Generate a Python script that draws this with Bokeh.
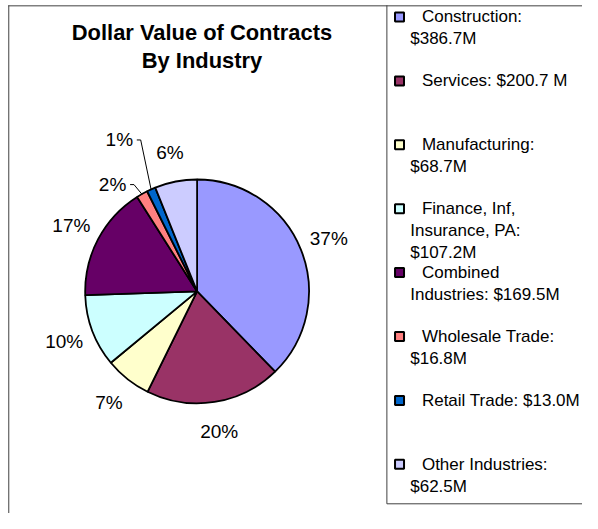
import numpy as np
from bokeh.plotting import figure
from bokeh.models import Range1d
from bokeh.core.properties import value
from bokeh.embed import file_html
from bokeh.resources import INLINE

# ---- data ----
industries = ["Construction", "Services", "Manufacturing", "Finance, Inf, Insurance, PA",
              "Combined Industries", "Wholesale Trade", "Retail Trade", "Other Industries"]
amounts = [386.7, 200.7, 68.7, 107.2, 169.5, 16.8, 13.0, 62.5]
pct_labels = ["37%", "20%", "7%", "10%", "17%", "2%", "1%", "6%"]
legend_lines = [["Construction:", "$386.7M"],
                ["Services: $200.7 M"],
                ["Manufacturing:", "$68.7M"],
                ["Finance, Inf,", "Insurance, PA:", "$107.2M"],
                ["Combined", "Industries: $169.5M"],
                ["Wholesale Trade:", "$16.8M"],
                ["Retail Trade: $13.0M"],
                ["Other Industries:", "$62.5M"]]
colors = ["#9999FF", "#993366", "#FFFFCC", "#CCFFFF", "#660066", "#FF8080", "#0066CC", "#CCCCFF"]
title_lines = ["Dollar Value of Contracts", "By Industry"]

# ---- layout: design space 598x529, scaled into the figure ----
W, H = 582, 513
SX, SY = W / 598.0, H / 529.0
def X(px): return px * SX
def Y(py): return H - py * SY
def F(sz): return "%.1fpx" % (sz * SX)

FONT = "Liberation Sans"
cx, cy, R = 202, 300, 115
label_r = 1.27
# manual nudges (design px) for crowded labels, with leader lines
label_nudge = {5: (-15, 17), 6: (-20, -23)}

p = figure(width=W, height=H, output_backend="svg", toolbar_location=None,
           x_range=Range1d(0, W), y_range=Range1d(0, H), min_border=0)
p.axis.visible = False
p.grid.visible = False
p.outline_line_color = None
p.background_fill_color = "white"
p.border_fill_color = "white"

# borders
border = "#404040"
p.line([X(8.5), X(8.5)], [Y(5), Y(529)], line_color=border, line_width=1)
p.line([X(8), X(598)], [Y(5.5), Y(5.5)], line_color=border, line_width=1)
p.line([X(397), X(397)], [Y(5), Y(519)], line_color=border, line_width=1)
p.line([X(397), X(598)], [Y(519), Y(519)], line_color=border, line_width=1)

# title
for i, t in enumerate(title_lines):
    p.text(x=[X(207)], y=[Y(33 + i * 29)], text=[t], text_font=value(FONT),
           text_font_size=F(22.5), text_font_style="bold", text_align="center",
           text_baseline="middle", text_color="black")

# pie
vals = np.array(amounts, dtype=float)
frac = vals / vals.sum()
cum = np.concatenate([[0.0], np.cumsum(frac)])
starts = np.pi / 2 - 2 * np.pi * cum[:-1]
ends = np.pi / 2 - 2 * np.pi * cum[1:]
p.wedge(x=[X(cx)] * len(vals), y=[Y(cy)] * len(vals), radius=R * SX, radius_units="screen",
        start_angle=starts, end_angle=ends, direction="clock",
        fill_color=colors, line_color="black", line_width=1.8)

# percentage labels
mids = 2 * np.pi * (cum[:-1] + cum[1:]) / 2
for i, lab in enumerate(pct_labels):
    lx = cx + label_r * R * np.sin(mids[i])
    ly = cy - label_r * R * np.cos(mids[i])
    if i in label_nudge:
        dx, dy = label_nudge[i]
        lx += dx
        ly += dy
        ex = cx + R * np.sin(mids[i])
        ey = cy - R * np.cos(mids[i])
        p.line([X(lx + 18), X(lx + 22), X(ex)], [Y(ly), Y(ly), Y(ey)],
               line_color="black", line_width=1)
    p.text(x=[X(lx)], y=[Y(ly)], text=[lab], text_font=value(FONT),
           text_font_size=F(19.5), text_align="center", text_baseline="middle",
           text_color="black")

# legend
step = 65.9
for i, lines in enumerate(legend_lines):
    y0 = 17 + i * step
    p.rect(x=[X(410)], y=[Y(y0)], width=9, height=9, width_units="screen",
           height_units="screen", fill_color=colors[i], line_color="black", line_width=2)
    for j, t in enumerate(lines):
        tx = 433 if j == 0 else 421
        p.text(x=[X(tx)], y=[Y(y0 + j * 22.5)], text=[t], text_font=value(FONT),
               text_font_size=F(17.5), text_align="left", text_baseline="middle",
               text_color="black")

open("out.html", "w").write(file_html(p, INLINE))
